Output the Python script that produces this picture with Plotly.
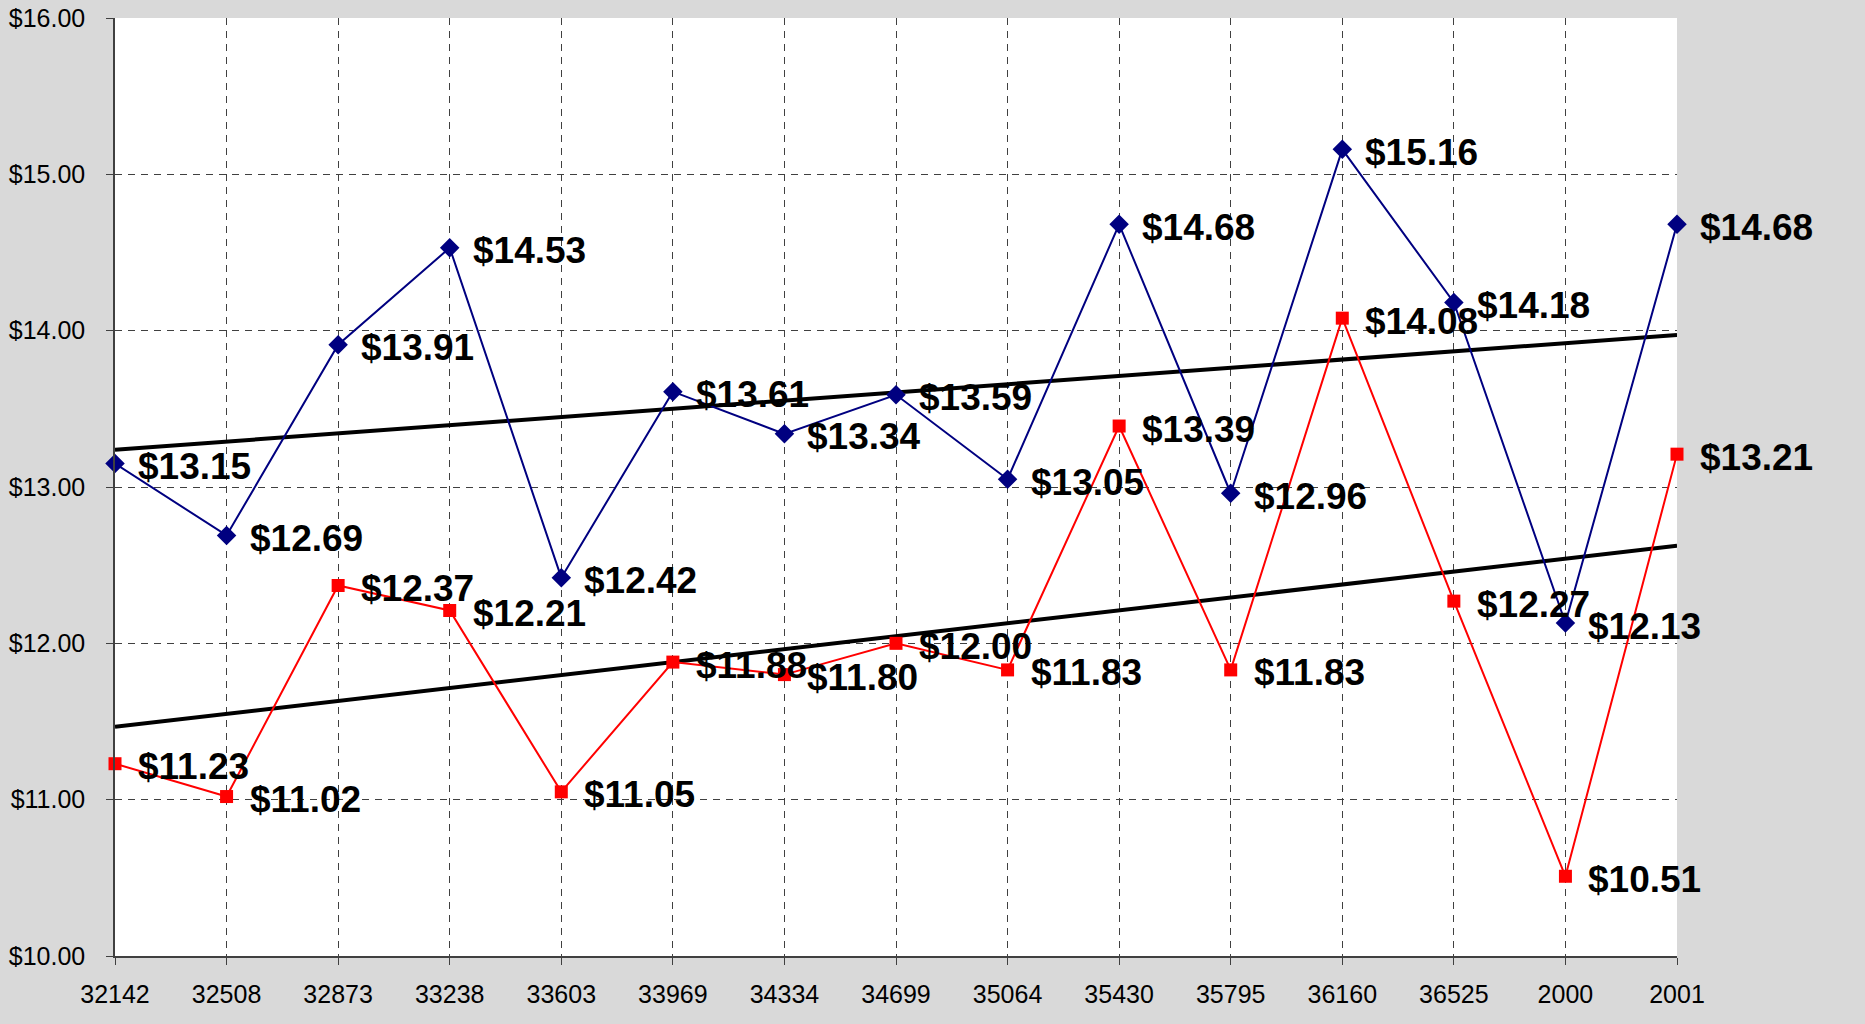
import numpy as np
import plotly.graph_objects as go

categories = ["32142", "32508", "32873", "33238", "33603", "33969", "34334", "34699",
              "35064", "35430", "35795", "36160", "36525", "2000", "2001"]
blue_values = [13.15, 12.69, 13.91, 14.53, 12.42, 13.61, 13.34, 13.59, 13.05, 14.68,
               12.96, 15.16, 14.18, 12.13, 14.68]
red_values = [11.23, 11.02, 12.37, 12.21, 11.05, 11.88, 11.80, 12.00, 11.83, 13.39,
              11.83, 14.08, 12.27, 10.51, 13.21]
y_ticks = [10, 11, 12, 13, 14, 15, 16]

x = np.arange(len(categories))
FONT = "Liberation Sans, Arial, sans-serif"

fig = go.Figure()

# linear trend lines (least squares, as Excel does)
for vals in (blue_values, red_values):
    k, b = np.polyfit(x, vals, 1)
    fig.add_trace(go.Scatter(x=[x[0], x[-1]], y=[k * x[0] + b, k * x[-1] + b],
                             mode="lines", line=dict(color="black", width=4),
                             showlegend=False, hoverinfo="skip", cliponaxis=False))

fig.add_trace(go.Scatter(x=x, y=blue_values, mode="lines+markers",
                         line=dict(color="#000080", width=2),
                         marker=dict(symbol="diamond", size=15, color="#000080"),
                         showlegend=False, cliponaxis=False))
fig.add_trace(go.Scatter(x=x, y=red_values, mode="lines+markers",
                         line=dict(color="#ff0000", width=2),
                         marker=dict(symbol="square", size=13, color="#ff0000"),
                         showlegend=False, cliponaxis=False))

annotations = []
for vals in (blue_values, red_values):
    for i, v in zip(x, vals):
        annotations.append(dict(x=int(i), y=v, text=f"${v:.2f}", showarrow=False,
                                xanchor="left", yanchor="middle", xshift=21, yshift=-3,
                                font=dict(family=FONT, size=37, color="black", weight="bold")))

grid = dict(showgrid=True, gridcolor="#404040", gridwidth=1, griddash="7px,6px",
            showline=True, linecolor="#404040", linewidth=1.5,
            ticks="outside", ticklen=7, tickcolor="#404040", zeroline=False,
            automargin=False,
            tickfont=dict(family=FONT, size=25, color="black"))

fig.update_layout(
    width=1865, height=1024,
    margin=dict(l=115, r=188, t=18, b=68),
    paper_bgcolor="#d9d9d9", plot_bgcolor="white",
    annotations=annotations,
    xaxis=dict(range=[0, len(categories) - 1], tickvals=list(x), ticktext=categories,
               ticklabelstandoff=8, **grid),
    yaxis=dict(range=[10, 16], tickvals=y_ticks, ticktext=[f"${t:.2f}" for t in y_ticks],
               ticklabelstandoff=16, **grid),
)

fig.write_html("out.html", config={"displayModeBar": False},
               post_script="document.body.style.margin='0';document.body.style.background='#d9d9d9';")
